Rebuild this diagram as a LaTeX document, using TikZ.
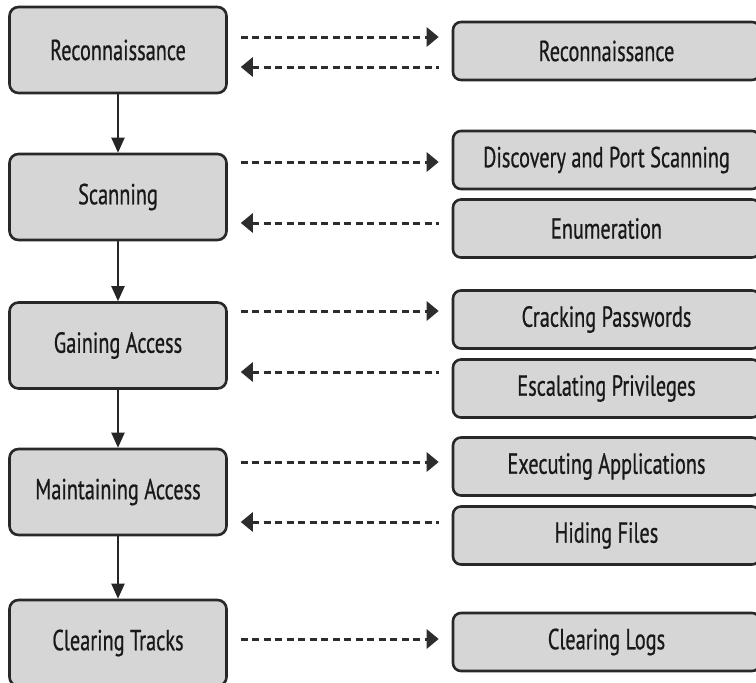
\documentclass[tikz,border=0pt]{standalone}
\usepackage{fontspec}
\setmainfont{PT Sans}[FakeStretch=0.7,FakeBold=0.6]
\usetikzlibrary{arrows.meta}
\definecolor{boxfill}{RGB}{214,214,214}
\definecolor{boxline}{RGB}{40,40,40}
\definecolor{dashcol}{RGB}{45,45,45}
\begin{document}
\begin{tikzpicture}[x=1pt,y=-1pt,
  stage/.style={draw=boxline, line width=2.6pt, fill=boxfill, rounded corners=9pt,
    minimum width=217pt, minimum height=86pt, inner sep=0pt,
    font=\fontsize{29}{34}\selectfont, text=black!90},
  sub/.style={draw=boxline, line width=2.6pt, fill=boxfill, rounded corners=8pt,
    minimum width=307pt, minimum height=58pt, inner sep=0pt,
    font=\fontsize{29}{34}\selectfont, text=black!90},
  fwd/.style={dashcol, line width=3pt, dash pattern=on 7pt off 4.5pt,
    shorten <=13pt, shorten >=13pt, -{Triangle[length=12pt,width=19pt]}},
  back/.style={dashcol, line width=3pt, dash pattern=on 7pt off 4.5pt,
    shorten <=13pt, shorten >=13pt, {Triangle[length=12pt,width=19pt]}-},
  flow/.style={black!85, line width=2pt, -{Triangle[length=15pt,width=13pt]}}]
\useasboundingbox (0,0) rectangle (756,683);
\clip (0,0) rectangle (756,683);
\fill[white] (0,0) rectangle (756,683);

% left stages
\node[stage] (L1) at (118,50)  {Reconnaissance};
\node[stage] (L2) at (118,197) {Scanning};
\node[stage] (L3) at (118,345.5) {Gaining Access};
\node[stage] (L4) at (118,492) {Maintaining Access};
\node[stage] (L5) at (118,643) {Clearing Tracks};

% right sub-steps
\node[sub] (R1) at (606.5,51)    {Reconnaissance};
\node[sub] (R2) at (606.5,160)   {Discovery and Port Scanning};
\node[sub] (R3) at (606.5,228.5) {Enumeration};
\node[sub] (R4) at (606.5,319.5) {Cracking Passwords};
\node[sub] (R5) at (606.5,388.5) {Escalating Privileges};
\node[sub] (R6) at (606.5,466.5) {Executing Applications};
\node[sub] (R7) at (606.5,535.5) {Hiding Files};
\node[sub] (R8) at (606.5,642)   {Clearing Logs};

% vertical flow
\draw[flow] (L1) -- (L2);
\draw[flow] (L2) -- (L3);
\draw[flow] (L3) -- (L4);
\draw[flow] (L4) -- (L5);

% dashed arrows
\draw[fwd]  ([yshift=13pt]L1.east) -- ([yshift=13pt]L1.east -| R1.west);
\draw[back] ([yshift=-17pt]L1.east) -- ([yshift=-17pt]L1.east -| R1.west);
\draw[fwd]  ([yshift=35pt]L2.east) -- ([yshift=35pt]L2.east -| R2.west);
\draw[back] ([yshift=-26pt]L2.east) -- ([yshift=-26pt]L2.east -| R3.west);
\draw[fwd]  ([yshift=34.5pt]L3.east) -- ([yshift=34.5pt]L3.east -| R4.west);
\draw[back] ([yshift=-26.5pt]L3.east) -- ([yshift=-26.5pt]L3.east -| R5.west);
\draw[fwd]  ([yshift=30pt]L4.east) -- ([yshift=30pt]L4.east -| R6.west);
\draw[back] ([yshift=-30pt]L4.east) -- ([yshift=-30pt]L4.east -| R7.west);
\draw[fwd]  ([yshift=4pt]L5.east) -- ([yshift=4pt]L5.east -| R8.west);
\end{tikzpicture}
\end{document}
